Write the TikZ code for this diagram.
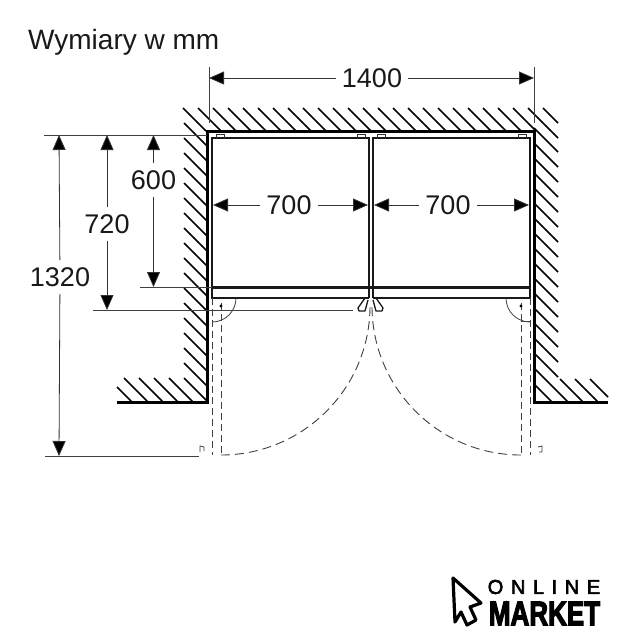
\documentclass[tikz,border=0pt]{standalone}
\usepackage{fontspec}
\setmainfont{Liberation Sans}
\usetikzlibrary{arrows.meta}
\tikzset{
  wall/.style={line width=3pt,line cap=butt},
  hatch/.style={line width=1.6pt},
  body/.style={line width=1.7pt,black!90},
  thin line/.style={line width=0.8pt,black!75},
  dim/.style={line width=0.8pt,black!80,-{Triangle[length=15pt,width=13pt,fill=black]}},
  dimtext/.style={font=\fontsize{27}{30}\selectfont,inner xsep=6pt,inner ysep=7pt,text=black!90},
  dashline/.style={line width=0.9pt,black!75,dash pattern=on 7pt off 4pt},
  dasharc/.style={line width=0.9pt,black!75,dash pattern=on 9pt off 5pt},
  brand/.style={inner sep=0pt,text=black}
}
\begin{document}
\begin{tikzpicture}[x=1pt,y=-1pt]
\useasboundingbox[fill=white] (0,0) rectangle (640,640);
\node[anchor=west,inner sep=0pt,font=\fontsize{28}{30}\selectfont,text=black!90] (title) at (28,42.5) {Wymiary w mm};
% hatching
\foreach \x in {183,198,...,513} \draw[hatch] (\x,108) -- (\x+23,131);
\draw[hatch] (528,108) -- (558,138);
\draw[hatch] (543,108) -- (558,123);
\foreach \y in {123,138,...,378} \draw[hatch] (184,\y) -- (207,\y+23);
\foreach \x in {124,139,...,169} \draw[hatch] (\x,378) -- (\x+24,402);
\draw[hatch] (117,387) -- (132,402);
\foreach \y in {128,143,...,353} \draw[hatch] (534,\y) -- (558,\y+24);
\draw[hatch] (534,368) -- (568,402);
\draw[hatch] (535,385) -- (552,402);
\draw[hatch] (560,379) -- (583,402);
\draw[hatch] (575,379) -- (598,402);
\draw[hatch] (590,379) -- (608,397);
% walls
\draw[wall,line join=miter] (117,402) -- (207,402) -- (207,131) -- (534,131) -- (534,402) -- (608,402);
% fridge
\draw[body] (369,287) -- (369,138) -- (212,138) -- (212,298) -- (369,298);
\draw[body] (373,287) -- (373,138) -- (530,138) -- (530,298) -- (373,298);
\draw[line width=3.5pt,black!90] (212,287.5) -- (530,287.5);
\draw[body] (369,287) -- (369,298);
\draw[body] (373,287) -- (373,298);
\foreach \x in {216,357,377,518} \draw[line width=0.9pt,black!80] (\x,138) -- (\x,134) -- (\x+8,134) -- (\x+8,138);
% handles
\draw[line width=1.3pt,black!90,line join=round] (365,298) -- (358,308) -- (359,311) -- (365,311) -- (368,300);
\draw[line width=1.3pt,black!90,line join=round] (376,298) -- (383,308) -- (382,311) -- (376,311) -- (373,300);
% door swing
\draw[dashline] (212,298) -- (212,455);
\draw[dashline] (221,303) -- (221,455);
\draw[dashline] (530,298) -- (530,455);
\draw[dashline] (521,303) -- (521,455);
\draw[dasharc] (221,455) .. controls (303.3,455) and (370,388.3) .. (370,306);
\draw[dasharc] (521,455) .. controls (438.7,455) and (372,388.3) .. (372,306);
\draw[thin line] (236,298) .. controls (236,311.3) and (225.3,322) .. (212,322);
\draw[thin line] (506,298) .. controls (506,311.3) and (516.7,322) .. (530,322);
\draw[thin line] (521,321) -- (530,321);
\fill[black] (221,306) circle[radius=1.6pt];
\fill[black] (521,306) circle[radius=1.6pt];
\draw[thin line] (200,452) -- (200,446) -- (204,447) -- (204,451);
\draw[thin line] (538,447) -- (542,446) -- (542,452) -- (539,452);
% extension lines
\draw[thin line] (209,67) -- (209,123);
\draw[thin line] (534,67) -- (534,123);
\draw[thin line] (44,135) -- (207,135);
\draw[thin line] (140,287) -- (212,287);
\draw[thin line] (93,310) -- (353,310);
\draw[thin line] (45,456) -- (199,456);
% dimensions
\coordinate (w1) at (209,78); \coordinate (w2) at (534,78);
\node[dimtext] (t1400) at (372,78) {1400};
\draw[dim] (t1400) -- (w1); \draw[dim] (t1400) -- (w2);
\coordinate (a1) at (213,205); \coordinate (a2) at (368,205);
\node[dimtext] (t700a) at (289,205) {700};
\draw[dim] (t700a) -- (a1); \draw[dim] (t700a) -- (a2);
\coordinate (b1) at (374,205); \coordinate (b2) at (529,205);
\node[dimtext] (t700b) at (448,205) {700};
\draw[dim] (t700b) -- (b1); \draw[dim] (t700b) -- (b2);
\coordinate (c1) at (153.5,135); \coordinate (c2) at (153.5,287);
\node[dimtext] (t600) at (153.5,180) {600};
\draw[dim] (t600) -- (c1); \draw[dim] (t600) -- (c2);
\coordinate (d1) at (107,135); \coordinate (d2) at (107,310);
\node[dimtext] (t720) at (107,224) {720};
\draw[dim] (t720) -- (d1); \draw[dim] (t720) -- (d2);
\coordinate (e1) at (59,135); \coordinate (e2) at (59,456);
\node[dimtext] (t1320) at (60,277) {1320};
\draw[dim] (t1320) -- (e1); \draw[dim] (t1320) -- (e2);
% logo
\draw[line width=3.2pt,line join=round,black] (453,578) -- (481,603) -- (470,607) -- (476,620) -- (467,625) -- (461,612) -- (455,622) -- cycle;
\node[brand,anchor=center] (online) at (544,587) {\fontsize{20}{21}\selectfont\addfontfeature{FakeBold=3,LetterSpace=38}ONLINE};
\node[brand,anchor=center] (market) at (544.5,613.5) {\scalebox{1}[1.3]{\fontsize{26}{28}\selectfont\bfseries\addfontfeature{FakeBold=4}MARKET}};
\end{tikzpicture}
\end{document}
